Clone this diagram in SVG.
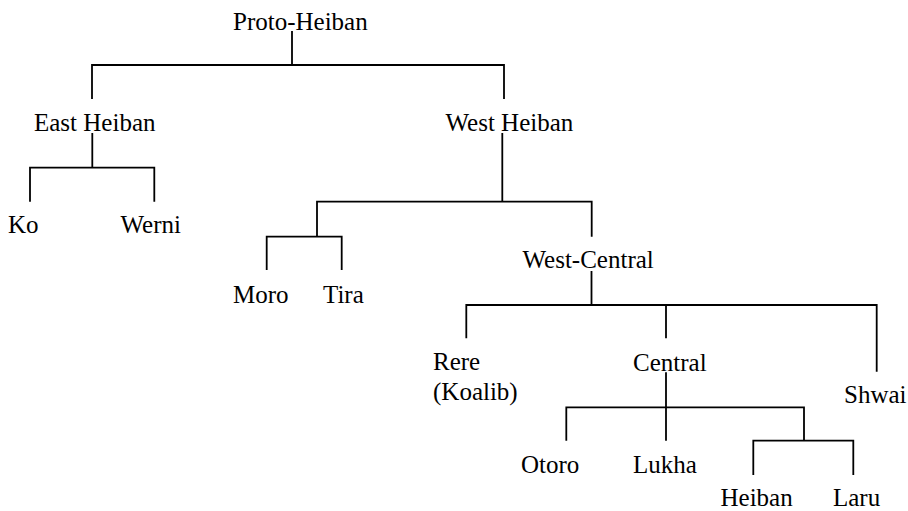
<svg xmlns="http://www.w3.org/2000/svg" width="908" height="511" viewBox="0 0 908 511">
<style>
text{font-family:"Liberation Serif","Times New Roman",serif;font-size:25px;fill:#000}
.c path{fill:none;stroke:#000;stroke-width:1.8}
</style>
<rect width="908" height="511" fill="#fff"/>
<g class="c" id="connectors">
<path d="M292 31V65M92 99V65H504V99"/>
<path d="M92.3 133V167.7M30 201.7V167.7H154.3V201.7"/>
<path d="M502.3 133V201.7M317 236.7V201.7H591.7V236.7"/>
<path d="M266.7 270V236.7H341.7V270"/>
<path d="M591.5 271V305M466.3 338.3V305H876.7V371.7M666 305V338.3"/>
<path d="M666 372.3V440.7M566.3 440.7V407.3H804V440.7"/>
<path d="M753.3 475V440.7H853.3V475"/>
</g>
<g id="proto-heiban"><text x="233" y="29.5">Proto-Heiban</text></g>
<g id="east-heiban"><text x="34" y="131">East Heiban</text></g>
<g id="west-heiban"><text x="445.5" y="131">West Heiban</text></g>
<g id="ko"><text x="8" y="232.7">Ko</text></g>
<g id="werni"><text x="120.5" y="232.7">Werni</text></g>
<g id="moro"><text x="233" y="303.3">Moro</text></g>
<g id="tira"><text x="323" y="303.3">Tira</text></g>
<g id="west-central"><text x="522.5" y="267.5">West-Central</text></g>
<g id="rere"><text x="433" y="369.5">Rere</text><text x="433" y="400">(Koalib)</text></g>
<g id="central"><text x="633" y="370.7">Central</text></g>
<g id="shwai"><text x="844" y="403.3">Shwai</text></g>
<g id="otoro"><text x="521" y="473">Otoro</text></g>
<g id="lukha"><text x="633" y="472.5">Lukha</text></g>
<g id="heiban"><text x="720.5" y="505.5">Heiban</text></g>
<g id="laru"><text x="833" y="505.5">Laru</text></g>
</svg>
